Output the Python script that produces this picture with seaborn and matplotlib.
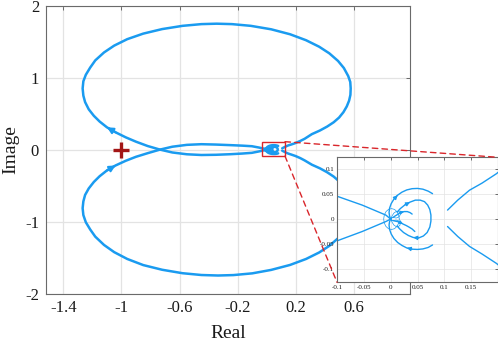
"""
Nyquist plot of the loop transfer function with a zoomed inset around the origin
"""

import numpy as np
import seaborn as sns
import matplotlib.pyplot as plt
from matplotlib.patches import Rectangle, ConnectionPatch

# upper loop: origin -> left below axis -> crossing -> around -> back to the right line
up_x = [0.0, -0.009, -0.053, -0.103, -0.17, -0.25, -0.35, -0.45, -0.55, -0.65, -0.735, -0.82,
        -0.9, -0.97, -1.04, -1.1, -1.15, -1.19, -1.225, -1.25, -1.262, -1.267, -1.262, -1.245,
        -1.215, -1.18, -1.12, -1.05, -0.96, -0.85, -0.72, -0.58, -0.45, -0.345, -0.24, -0.11,
        0.03, 0.16, 0.27, 0.36, 0.43, 0.49, 0.53, 0.56, 0.574, 0.577, 0.575, 0.566, 0.55, 0.527,
        0.497, 0.46, 0.415, 0.365, 0.31, 0.26, 0.23, 0.197, 0.17, 0.147, 0.125, 0.106]
up_y = [0.0, -0.005, -0.025, -0.045, -0.055, -0.064, -0.072, -0.075, -0.065, -0.04, 0.0, 0.05,
        0.11, 0.17, 0.24, 0.31, 0.39, 0.47, 0.56, 0.66, 0.75, 0.85, 0.95, 1.04,
        1.14, 1.24, 1.35, 1.445, 1.535, 1.612, 1.675, 1.72, 1.744, 1.75, 1.744, 1.72,
        1.672, 1.603, 1.52, 1.43, 1.338, 1.232, 1.134, 1.022, 0.94, 0.85, 0.76, 0.68, 0.6, 0.52,
        0.445, 0.38, 0.32, 0.265, 0.215, 0.15, 0.12, 0.091, 0.072, 0.058, 0.038, 0.018]

# lower loop: origin -> left above axis -> crossing -> around -> back to the right line
lo_x = [0.0, -0.009, -0.053, -0.103, -0.17, -0.25, -0.35, -0.45, -0.55, -0.65, -0.735, -0.82,
        -0.9, -0.97, -1.04, -1.1, -1.15, -1.19, -1.225, -1.25, -1.262, -1.267, -1.262, -1.245,
        -1.215, -1.18, -1.12, -1.05, -0.96, -0.85, -0.72, -0.58, -0.45, -0.335, -0.23, -0.1,
        0.03, 0.16, 0.27, 0.36, 0.43, 0.49, 0.53, 0.56, 0.574, 0.577, 0.575, 0.566, 0.55, 0.527,
        0.497, 0.46, 0.415, 0.365, 0.31, 0.26, 0.23, 0.197, 0.17, 0.147, 0.125, 0.106]
lo_y = [0.0, 0.008, 0.028, 0.047, 0.055, 0.062, 0.07, 0.075, 0.066, 0.04, 0.0, -0.05,
        -0.1, -0.155, -0.22, -0.29, -0.37, -0.45, -0.54, -0.63, -0.72, -0.814, -0.91, -1.01,
        -1.11, -1.21, -1.325, -1.425, -1.52, -1.605, -1.67, -1.718, -1.743, -1.75, -1.744, -1.72,
        -1.672, -1.603, -1.52, -1.43, -1.338, -1.232, -1.134, -1.022, -0.93, -0.84, -0.75, -0.67,
        -0.59, -0.515, -0.44, -0.375, -0.315, -0.26, -0.21, -0.15, -0.118, -0.089, -0.07, -0.055,
        -0.035, -0.015]

# spiral near the origin
outer_up_x = [0.078, 0.07, 0.06, 0.05, 0.04, 0.03, 0.021, 0.013, 0.006, 0.001, -0.002, -0.003, -0.002, 0.0]
outer_up_y = [0.051, 0.056, 0.06, 0.0615, 0.061, 0.0585, 0.054, 0.048, 0.04, 0.031, 0.022, 0.013, 0.006, 0.0]
outer_lo_x = [0.078, 0.07, 0.06, 0.05, 0.04, 0.03, 0.021, 0.013, 0.006, 0.001, -0.002, -0.003, -0.002, 0.0]
outer_lo_y = [-0.052, -0.057, -0.06, -0.061, -0.0605, -0.058, -0.053, -0.047, -0.039, -0.03, -0.021, -0.012, -0.005, 0.0]
mid_x = [0.012, 0.018, 0.026, 0.036, 0.046, 0.055, 0.063, 0.069, 0.073, 0.075, 0.075, 0.073,
         0.068, 0.061, 0.052, 0.042, 0.033, 0.024, 0.017, 0.012]
mid_y = [0.014, 0.021, 0.028, 0.034, 0.038, 0.038, 0.035, 0.028, 0.019, 0.008, -0.004, -0.016,
         -0.027, -0.034, -0.038, -0.037, -0.033, -0.027, -0.02, -0.014]
inner_up_x = [0.004, 0.008, 0.0125, 0.018, 0.025, 0.031, 0.036, 0.04]
inner_up_y = [0.003, 0.006, 0.009, 0.013, 0.015, 0.015, 0.013, 0.01]
inner_lo_x = [0.004, 0.008, 0.0125, 0.018, 0.023, 0.029, 0.034, 0.04, 0.045]
inner_lo_y = [-0.003, -0.004, -0.005, -0.007, -0.01, -0.013, -0.016, -0.02, -0.025]
ring_x = [0.016, 0.0149, 0.0118, 0.0071, 0.0015, -0.0041, -0.0088, -0.0119, -0.013,
          -0.0119, -0.0088, -0.0041, 0.0015, 0.0071, 0.0118, 0.0149, 0.016]
ring_y = [0.0, 0.008, 0.0148, 0.0194, 0.021, 0.0194, 0.0148, 0.008, 0.0,
          -0.008, -0.0148, -0.0194, -0.021, -0.0194, -0.0148, -0.008, 0.0]
small_x = [0.0, 0.003, 0.006, 0.01, 0.014, 0.017, 0.018, 0.016, 0.013, 0.01, 0.006, 0.003, 0.0,
           0.003, 0.006, 0.01, 0.013, 0.016, 0.018, 0.017, 0.014, 0.01, 0.006, 0.003, 0.0]
small_y = [0.0, 0.007, 0.012, 0.015, 0.015, 0.013, 0.009, 0.005, 0.003, 0.002, 0.003, 0.003, 0.0,
           -0.003, -0.003, -0.002, -0.003, -0.005, -0.009, -0.013, -0.015, -0.015, -0.012, -0.007, 0.0]

crit_x, crit_y = [-1.0], [0.0]

main_xticks = [-1.4, -1, -0.6, -0.2, 0.2, 0.6]
main_xlabels = ['-1.4', '-1', '-0.6', '-0.2', '0.2', '0.6']
main_yticks = [-2, -1, 0, 1, 2]
main_ylabels = ['-2', '-1', '0', '1', '2']
ins_xticks = [-0.1, -0.05, 0, 0.05, 0.1, 0.15]
ins_xlabels = ['-0.1', '-0.05', '0', '0.05', '0.1', '0.15']
ins_yticks = [-0.1, -0.05, 0, 0.05, 0.1]
ins_ylabels = ['-0.1', '-0.05', '0', '0.05', '0.1']

blue = '#1a9bf0'
red = '#d9262b'

sns.set_style('whitegrid')
plt.rcParams['font.family'] = ['Liberation Serif', 'DejaVu Serif']
plt.rcParams['axes.unicode_minus'] = False
plt.rcParams['lines.solid_joinstyle'] = 'round'
plt.rcParams['lines.solid_capstyle'] = 'round'

fig = plt.figure(figsize=(4.98, 3.44), dpi=100)
ax = fig.add_axes([46 / 498, 50.5 / 344, 364 / 498, 287.8 / 344])
axins = fig.add_axes([337 / 498, 61.7 / 344, 161 / 498, 125 / 344])


def style(a, xt, xl, yt, yl, size, pad, lw):
    a.set_xticks(xt)
    a.set_xticklabels(xl)
    a.set_yticks(yt)
    a.set_yticklabels(yl)
    a.tick_params(direction='in', top=True, right=True, labelsize=size, pad=pad,
                  length=3, width=0.6, colors='#555555', labelcolor='#1a1a1a')
    a.grid(True, color='#e3e3e3', linewidth=lw)
    for s in a.spines.values():
        s.set_color('#6a6a6a')
        s.set_linewidth(0.8)
    a.set_facecolor('white')


def arrow(a, xs, ys, i, j, ms, lw):
    a.annotate('', xy=(xs[j], ys[j]), xytext=(xs[i], ys[i]),
               arrowprops=dict(arrowstyle='-|>', color=blue, lw=lw, mutation_scale=ms,
                               shrinkA=0, shrinkB=0))


spiral = [(outer_up_x, outer_up_y), (outer_lo_x, outer_lo_y), (mid_x, mid_y),
          (inner_up_x, inner_up_y), (inner_lo_x, inner_lo_y)]
thin = [(ring_x, ring_y), (small_x, small_y)]

# main axes
for xs, ys in [(up_x, up_y), (lo_x, lo_y)] + spiral + thin:
    sns.lineplot(x=xs, y=ys, sort=False, estimator=None, color=blue, linewidth=1.8, ax=ax)
arrow(ax, up_x, up_y, 14, 15, 9, 1.5)
arrow(ax, lo_x, lo_y, 15, 14, 9, 1.5)
ax.plot(crit_x, crit_y, marker='+', color='#a31515', markersize=11, markeredgewidth=2.4, linestyle='none')
ax.set_xlim(-1.519, 0.985)
ax.set_ylim(-2, 2)
style(ax, main_xticks, main_xlabels, main_yticks, main_ylabels, 12, 5, 0.9)
ax.set_xlabel('Real', fontsize=14, labelpad=6, color='#1a1a1a')
ax.set_ylabel('Image', fontsize=14, labelpad=4, color='#1a1a1a')

# zoom box on the main axes
box_x, box_y = [-0.03, 0.125], [-0.09, 0.11]
ax.add_patch(Rectangle((box_x[0], box_y[0]), box_x[1] - box_x[0], box_y[1] - box_y[0],
                       fill=False, edgecolor=red, linewidth=1.0, zorder=5))

# inset
for xs, ys in [(up_x, up_y), (lo_x, lo_y)] + spiral:
    sns.lineplot(x=xs, y=ys, sort=False, estimator=None, color=blue, linewidth=1.0, ax=axins)
for xs, ys in thin:
    sns.lineplot(x=xs, y=ys, sort=False, estimator=None, color=blue, linewidth=0.5, ax=axins)
arrow(axins, outer_up_x, outer_up_y, 8, 7, 6, 0.8)
arrow(axins, outer_lo_x, outer_lo_y, 4, 5, 6, 0.8)
arrow(axins, mid_x, mid_y, 2, 3, 6, 0.8)
arrow(axins, mid_x, mid_y, 14, 15, 6, 0.8)
arrow(axins, inner_up_x, inner_up_y, 3, 4, 5, 0.8)
arrow(axins, inner_lo_x, inner_lo_y, 3, 4, 5, 0.8)
axins.set_xlim(-0.1, 0.2)
axins.set_ylim(-0.127, 0.124)
style(axins, ins_xticks, ins_xlabels, ins_yticks, ins_ylabels, 5, 2, 0.5)
axins.tick_params(length=2)
axins.set_xlabel('')
axins.set_ylabel('')

# dashed connectors
for pa, pb in [((box_x[1], box_y[1]), (0.2, 0.124)), ((box_x[1], box_y[0]), (-0.1, -0.127))]:
    con = ConnectionPatch(xyA=pa, coordsA=ax.transData, xyB=pb, coordsB=axins.transData,
                          color=red, linestyle=(0, (4, 3)), linewidth=1.0)
    fig.add_artist(con)

fig.savefig('out.png', dpi=100)
